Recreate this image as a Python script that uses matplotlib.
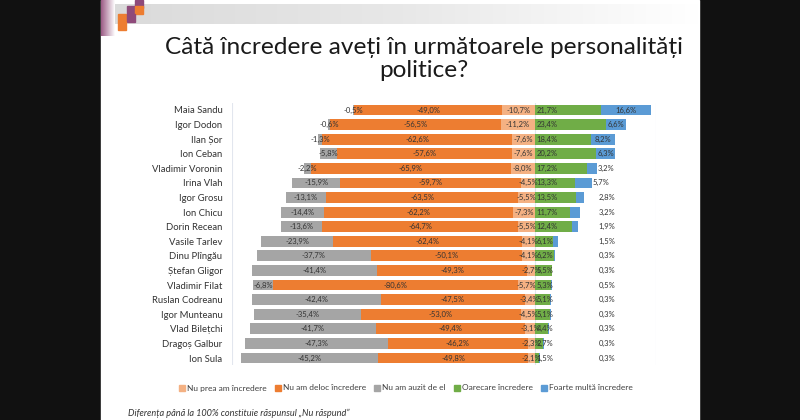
import matplotlib
matplotlib.use("Agg")
import matplotlib.pyplot as plt
from matplotlib.patches import Rectangle
from matplotlib.colors import LinearSegmentedColormap
import numpy as np

names = ["Maia Sandu", "Igor Dodon", "Ilan Șor", "Ion Ceban", "Vladimir Voronin",
         "Irina Vlah", "Igor Grosu", "Ion Chicu", "Dorin Recean", "Vasile Tarlev",
         "Dinu Plîngău", "Ștefan Gligor", "Vladimir Filat", "Ruslan Codreanu",
         "Igor Munteanu", "Vlad Bilețchi", "Dragoș Galbur", "Ion Sula"]
nu_prea = [10.7, 11.2, 7.6, 7.6, 8.0, 4.5, 5.5, 7.3, 5.5, 4.1, 4.1, 2.7, 5.7, 3.4, 4.5, 3.1, 2.3, 2.1]
nu_deloc = [49.0, 56.5, 62.6, 57.6, 65.9, 59.7, 63.5, 62.2, 64.7, 62.4, 50.1, 49.3, 80.6, 47.5, 53.0, 49.4, 46.2, 49.8]
nu_auzit = [0.5, 0.6, 1.3, 5.8, 2.2, 15.9, 13.1, 14.4, 13.6, 23.9, 37.7, 41.4, 6.8, 42.4, 35.4, 41.7, 47.3, 45.2]
oarecare = [21.7, 23.4, 18.4, 20.2, 17.2, 13.3, 13.5, 11.7, 12.4, 6.1, 6.2, 5.5, 5.3, 5.1, 5.1, 4.4, 2.7, 1.5]
foarte = [16.6, 6.6, 8.2, 6.3, 3.2, 5.7, 2.8, 3.2, 1.9, 1.5, 0.3, 0.3, 0.5, 0.3, 0.3, 0.3, 0.3, 0.3]
legend_labels = ["Nu prea am încredere", "Nu am deloc încredere", "Nu am auzit de el",
                 "Oarecare încredere", "Foarte multă încredere"]
title = "Câtă încredere aveți în următoarele personalități\npolitice?"
footnote = "Diferența până la 100% constituie răspunsul „Nu răspund”"

C_PEACH, C_ORANGE, C_GREY, C_GREEN, C_BLUE = "#F4B183", "#ED7D31", "#A5A5A5", "#70AD47", "#5B9BD5"
FONT = ["Lato", "DejaVu Sans"]
plt.rcParams["font.family"] = FONT

W, H = 800, 420
fig = plt.figure(figsize=(8, 4.2), dpi=100, facecolor="#111111")

def px(x0, y0, w, h):
    return (x0 / W, 1 - (y0 + h) / H, w / W, h / H)

# slide background
l, b, w, h = px(101, 0, 598, 420)
fig.patches.append(Rectangle((l, b), w, h, transform=fig.transFigure, color="white", zorder=-10))

# top grey gradient band
grad = np.linspace(0, 1, 256)[None, :]
cmap_g = LinearSegmentedColormap.from_list("g", ["#DADADA", "#E8E8E8", "#FFFFFF"])
axg = fig.add_axes(px(108, 4, 591, 20))
axg.imshow(grad, aspect="auto", cmap=cmap_g, extent=(0, 1, 0, 1))
axg.axis("off")
# left purple gradient
cmap_p = LinearSegmentedColormap.from_list("p", ["#9B5A84", "#FFFFFF"])
axp = fig.add_axes(px(101, 0, 14, 36))
axp.imshow(grad, aspect="auto", cmap=cmap_p, extent=(0, 1, 0, 1))
axp.axis("off")
# decorative squares
for (sx, sy, c) in [(135, 0, "#8E4A7A"), (127, 6, "#8E4A7A"), (135, 6, "#ED7D31"),
                    (118, 14, "#ED7D31"), (127, 14, "#8E4A7A"), (118, 22, "#ED7D31")]:
    l, b, w, h = px(sx, sy, 8, 8)
    fig.patches.append(Rectangle((l, b), w, h, transform=fig.transFigure, color=c, zorder=2))

fig.text(424 / W, 1 - 59 / H, title, ha="center", va="center", fontsize=17.6,
         color="#1a1a1a", linespacing=1.12, family=FONT)

# main chart
ax = fig.add_axes(px(232, 102.7, 424, 262.6))
ax.set_facecolor("none")
n = len(names)
y = np.arange(n)
p = np.array(nu_prea); o = np.array(nu_deloc); g = np.array(nu_auzit)
gr = np.array(oarecare); bl = np.array(foarte)
bh = 0.74
ax.barh(y, -p, left=0, height=bh, color=C_PEACH, zorder=3)
ax.barh(y, -o, left=-p, height=bh, color=C_ORANGE, zorder=3)
ax.barh(y, -g, left=-(p + o), height=bh, color=C_GREY, zorder=3)
ax.barh(y, gr, left=0, height=bh, color=C_GREEN, zorder=3)
ax.barh(y, bl, left=gr, height=bh, color=C_BLUE, zorder=3)
ax.set_xlim(-100, 40)
ax.set_ylim(n - 0.5, -0.5)
for xv in (-100, 0, 40):
    ax.axvline(xv, color="#E2E6EE", lw=0.8, zorder=1)
for s in ax.spines.values():
    s.set_visible(False)
ax.set_xticks([])
ax.set_yticks(y)
ax.set_yticklabels(names, fontsize=6.8, color="#333333")
ax.tick_params(axis="y", length=0, pad=7)

def fmt(v, neg=False):
    return ("-" if neg else "") + f"{v:.1f}".replace(".", ",") + "%"

LS = 5.5
TC = "#333333"
for i in range(n):
    ax.text(-p[i] / 2, i, fmt(p[i], True), ha="center", va="center", fontsize=LS, color=TC, zorder=5)
    ax.text(-p[i] - o[i] / 2, i, fmt(o[i], True), ha="center", va="center", fontsize=LS, color=TC, zorder=5)
    ax.text(-p[i] - o[i] - g[i] / 2, i, fmt(g[i], True), ha="center", va="center", fontsize=LS, color=TC, zorder=5)
    ax.text(0.6, i, fmt(gr[i]), ha="left", va="center", fontsize=LS, color=TC, zorder=5)
    if bl[i] >= 6:
        ax.text(gr[i] + bl[i] / 2, i, fmt(bl[i]), ha="center", va="center", fontsize=LS, color=TC, zorder=5)
    elif gr[i] + bl[i] >= 19:
        ax.text(gr[i] + bl[i] + 0.2, i, fmt(bl[i]), ha="left", va="center", fontsize=LS, color=TC, zorder=5)
    else:
        ax.text(23.8, i, fmt(bl[i]), ha="center", va="center", fontsize=LS, color=TC, zorder=5)

colors = [C_PEACH, C_ORANGE, C_GREY, C_GREEN, C_BLUE]
handles = [Rectangle((0, 0), 1, 1, color=c) for c in colors]
fig.legend(handles, legend_labels, loc="center", bbox_to_anchor=(406 / W, 1 - 388 / H),
           ncol=5, frameon=False, fontsize=6, handlelength=0.7, handleheight=0.7,
           handletextpad=0.3, columnspacing=0.95, labelcolor="#404040")

fig.text(128 / W, 1 - 413 / H, footnote, ha="left", va="center", fontsize=6.6,
         style="italic", color="#333333", family=FONT)

fig.savefig("out.png", dpi=100, facecolor=fig.get_facecolor())
